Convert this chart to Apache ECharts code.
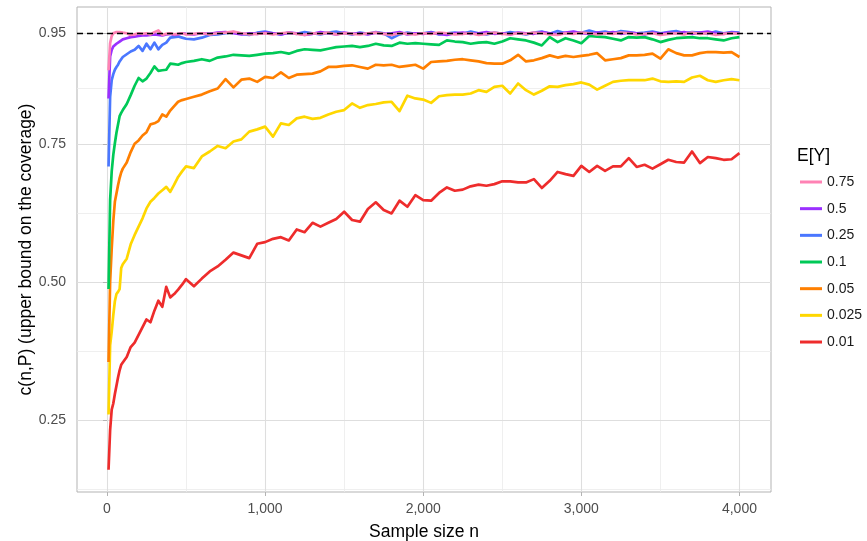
<!DOCTYPE html>
<html>
<head>
<meta charset="utf-8">
<script src="https://cdn.jsdelivr.net/npm/echarts@6/dist/echarts.min.js"></script>
<style>
html,body{margin:0;padding:0;background:#fff;}
#chart{width:867px;height:541px;}
</style>
</head>
<body>
<div id="chart"></div>
<script>
// ---- data ----
const sampleSizes = [10,20,30,40,50,60,70,80,90,100,125,150,175,200,225,250,275,300,325,350,375,400,425,450,475,500,
  550,600,650,700,750,800,850,900,950,1000,1050,1100,1150,1200,1250,1300,1350,1400,1450,1500,
  1550,1600,1650,1700,1750,1800,1850,1900,1950,2000,2050,2100,2150,2200,2250,2300,2350,2400,2450,2500,
  2550,2600,2650,2700,2750,2800,2850,2900,2950,3000,3050,3100,3150,3200,3250,3300,3350,3400,3450,3500,
  3550,3600,3650,3700,3750,3800,3850,3900,3950,4000];

const legendTitle = "E[Y]";
const seriesNames = ["0.75","0.5","0.25","0.1","0.05","0.025","0.01"];

const cov075 = [0.883,0.932,0.945,0.950,0.951,0.952,0.951,0.952,0.951,0.951,0.950,0.947,0.948,0.950,0.949,0.950,0.948,0.952,0.955,0.947,0.949,0.950,0.948,0.949,0.950,0.948,
  0.949,0.950,0.948,0.950,0.951,0.953,0.950,0.948,0.949,0.950,
  0.948,0.950,0.951,0.949,0.947,0.950,0.949,0.951,0.948,0.950,
  0.949,0.948,0.950,0.951,0.949,0.947,0.950,0.949,0.948,0.950,
  0.949,0.951,0.950,0.948,0.949,0.950,0.947,0.949,0.951,0.949,
  0.948,0.950,0.949,0.951,0.950,0.948,0.947,0.950,0.949,0.951,
  0.950,0.948,0.950,0.949,0.951,0.950,0.948,0.949,0.950,0.947,
  0.949,0.950,0.948,0.951,0.949,0.950,0.947,0.949,0.950,0.949];

const cov050 = [0.832,0.908,0.920,0.926,0.929,0.931,0.933,0.935,0.937,0.939,0.941,0.943,0.944,0.945,0.946,0.946,0.947,0.948,0.947,0.946,0.948,0.949,0.947,0.948,0.950,0.949,
  0.948,0.950,0.949,0.951,0.952,0.950,0.948,0.950,0.949,0.951,
  0.950,0.948,0.951,0.950,0.947,0.949,0.952,0.950,0.948,0.951,
  0.949,0.950,0.948,0.951,0.949,0.950,0.952,0.948,0.950,0.949,
  0.951,0.949,0.947,0.950,0.951,0.949,0.950,0.952,0.949,0.950,
  0.948,0.951,0.950,0.949,0.952,0.950,0.948,0.951,0.953,0.950,
  0.949,0.951,0.950,0.952,0.949,0.951,0.950,0.948,0.951,0.949,
  0.951,0.950,0.952,0.949,0.951,0.953,0.950,0.949,0.951,0.950];

const cov025 = [0.709,0.835,0.865,0.876,0.884,0.889,0.893,0.899,0.903,0.907,0.912,0.917,0.920,0.927,0.918,0.931,0.921,0.933,0.921,0.929,0.933,0.942,0.943,0.944,0.942,0.940,
  0.939,0.942,0.947,0.948,0.950,0.952,0.949,0.947,0.951,0.953,
  0.950,0.948,0.951,0.949,0.952,0.950,0.948,0.951,0.953,0.950,
  0.948,0.951,0.949,0.952,0.950,0.941,0.948,0.951,0.949,0.950,
  0.952,0.948,0.950,0.951,0.949,0.953,0.950,0.948,0.951,0.949,
  0.952,0.950,0.948,0.951,0.953,0.949,0.954,0.950,0.952,0.951,
  0.955,0.951,0.953,0.950,0.954,0.952,0.950,0.951,0.953,0.950,
  0.952,0.954,0.950,0.952,0.951,0.949,0.953,0.950,0.952,0.951];

const cov010 = [0.487,0.648,0.700,0.730,0.751,0.770,0.785,0.800,0.806,0.811,0.822,0.838,0.855,0.869,0.863,0.868,0.878,0.890,0.882,0.883,0.884,0.895,0.894,0.893,0.896,0.898,
  0.900,0.903,0.900,0.906,0.908,0.911,0.910,0.909,0.911,0.913,
  0.914,0.916,0.913,0.918,0.921,0.920,0.919,0.922,0.925,0.926,
  0.927,0.925,0.927,0.931,0.928,0.927,0.933,0.931,0.932,0.931,
  0.930,0.929,0.937,0.935,0.934,0.931,0.933,0.934,0.931,0.935,
  0.941,0.939,0.937,0.933,0.928,0.943,0.934,0.941,0.937,0.932,
  0.945,0.944,0.943,0.940,0.937,0.943,0.942,0.943,0.939,0.934,
  0.938,0.941,0.942,0.943,0.941,0.941,0.939,0.937,0.941,0.943];

const cov005 = [0.355,0.500,0.560,0.610,0.645,0.660,0.675,0.688,0.698,0.705,0.716,0.735,0.750,0.756,0.765,0.771,0.785,0.787,0.791,0.803,0.799,0.810,0.818,0.826,0.829,0.831,
  0.835,0.839,0.845,0.850,0.867,0.852,0.866,0.868,0.862,0.871,
  0.869,0.879,0.869,0.875,0.876,0.877,0.881,0.889,0.889,0.891,
  0.892,0.889,0.886,0.893,0.892,0.893,0.889,0.891,0.893,0.886,
  0.898,0.899,0.900,0.902,0.903,0.901,0.899,0.896,0.895,0.895,
  0.901,0.911,0.899,0.901,0.905,0.910,0.906,0.909,0.907,0.909,
  0.911,0.914,0.901,0.903,0.905,0.910,0.910,0.911,0.913,0.904,
  0.921,0.914,0.910,0.910,0.914,0.916,0.916,0.915,0.916,0.907];

const cov0025 = [0.260,0.385,0.410,0.440,0.465,0.478,0.482,0.487,0.525,0.532,0.542,0.568,0.585,0.600,0.615,0.633,0.645,0.652,0.660,0.666,0.672,0.663,0.676,0.690,0.700,0.709,
  0.706,0.727,0.736,0.746,0.742,0.754,0.758,0.772,0.776,0.781,
  0.763,0.787,0.784,0.796,0.799,0.795,0.797,0.803,0.808,0.811,
  0.823,0.815,0.820,0.822,0.825,0.826,0.809,0.837,0.832,0.830,
  0.824,0.836,0.838,0.839,0.839,0.841,0.847,0.844,0.853,0.855,
  0.841,0.859,0.847,0.839,0.846,0.854,0.853,0.856,0.858,0.861,
  0.857,0.848,0.855,0.862,0.864,0.865,0.865,0.865,0.868,0.863,
  0.862,0.863,0.862,0.870,0.873,0.865,0.862,0.865,0.867,0.865];

const cov001 = [0.160,0.232,0.269,0.280,0.297,0.312,0.327,0.340,0.350,0.354,0.364,0.382,0.390,0.404,0.418,0.432,0.427,0.448,0.466,0.455,0.491,0.472,0.478,0.486,0.495,0.505,
  0.492,0.506,0.519,0.528,0.540,0.553,0.548,0.543,0.569,0.572,
  0.578,0.581,0.575,0.595,0.590,0.607,0.600,0.607,0.614,0.627,
  0.612,0.609,0.632,0.644,0.630,0.624,0.647,0.636,0.657,0.648,
  0.647,0.661,0.671,0.665,0.667,0.673,0.676,0.674,0.677,0.682,
  0.682,0.680,0.680,0.686,0.670,0.683,0.699,0.695,0.692,0.710,
  0.699,0.710,0.701,0.709,0.709,0.724,0.708,0.712,0.705,0.713,
  0.721,0.717,0.716,0.736,0.715,0.726,0.724,0.721,0.722,0.733];

const targetLevel = 0.95;
const xTickValues = [0,1000,2000,3000,4000];
const xMinorValues = [500,1500,2500,3500];
const yTickValues = [0.25,0.50,0.75,0.95];
const yMinorValues = [0.125,0.375,0.625,0.85];

// ---- styling ----
const FONT = "Liberation Sans, Arial, Helvetica, sans-serif";
const colors = {
  "0.75": "#FF82B4",
  "0.5": "#9B30FF",
  "0.25": "#4A77FF",
  "0.1": "#00C957",
  "0.05": "#FF7F00",
  "0.025": "#FFD700",
  "0.01": "#EE2C2C"
};
const valuesByName = {
  "0.75": cov075, "0.5": cov050, "0.25": cov025, "0.1": cov010,
  "0.05": cov005, "0.025": cov0025, "0.01": cov001
};

const X_MIN = -189.5, X_MAX = 4199.5, Y_MIN = 0.1198, Y_MAX = 0.9975;

function fmtThousands(v){ return Math.round(v).toString().replace(/\B(?=(\d{3})+(?!\d))/g, ","); }

const chart = echarts.init(document.getElementById('chart'), null, {renderer:'canvas'});

// draw order: bottom-most first (0.01) ... top-most last (0.75)
const drawOrder = seriesNames.slice().reverse();
const lineSeries = drawOrder.map(name => ({
  name: name,
  type: 'line',
  xAxisIndex: 0, yAxisIndex: 0,
  data: sampleSizes.map((n,i) => [n, valuesByName[name][i]]),
  symbol: 'none',
  showSymbol: false,
  smooth: false,
  lineStyle: { color: colors[name], width: 2.7, join: 'round', cap: 'butt' },
  itemStyle: { color: colors[name] },
  emphasis: { disabled: true },
  z: 3
}));

const refSeries = {
  name: '__ref',
  type: 'line',
  xAxisIndex: 0, yAxisIndex: 0,
  data: [],
  symbol: 'none',
  z: 2,
  markLine: {
    silent: true,
    symbol: ['none','none'],
    label: { show: false },
    lineStyle: { color: '#000', width: 1.4, type: [6,4] },
    data: [{ yAxis: targetLevel }],
    animation: false
  }
};

const option = {
  animation: false,
  backgroundColor: '#fff',
  textStyle: { fontFamily: FONT },
  title: {
    text: legendTitle,
    left: 797, top: 147,
    padding: 0,
    textStyle: { fontFamily: FONT, fontSize: 17.5, fontWeight: 'normal', color: '#000' }
  },
  legend: {
    data: seriesNames,
    orient: 'vertical',
    left: 800, top: 175,
    padding: 0,
    icon: 'path://M0,0L22,0L22,3L0,3Z',
    symbolKeepAspect: true,
    itemWidth: 22, itemHeight: 14, itemGap: 12.67,
    textStyle: { fontFamily: FONT, fontSize: 14, color: '#1a1a1a', lineHeight: 14 },
    selectedMode: false
  },
  grid: [{
    left: 77, top: 7, width: 694, height: 485,
    containLabel: false,
    outerBoundsMode: 'none',
    show: true,
    borderColor: '#B3B3B3', borderWidth: 1,
    backgroundColor: 'transparent'
  }],
  xAxis: [{
    type: 'value', gridIndex: 0, position: 'bottom',
    min: X_MIN, max: X_MAX,
    name: 'Sample size n', nameLocation: 'middle', nameGap: 31,
    nameTextStyle: { fontFamily: FONT, fontSize: 17.5, color: '#000' },
    axisLine: { show: false },
    axisTick: { show: true, customValues: xTickValues, length: 4, inside: false, lineStyle: { color: '#B3B3B3', width: 1 } },
    axisLabel: { show: true, customValues: xTickValues, margin: 10, fontFamily: FONT, fontSize: 14, color: '#4D4D4D', formatter: v => fmtThousands(v) },
    splitLine: { show: true, lineStyle: { color: '#DEDEDE', width: 1.1 } },
    z: 1
  },{
    type: 'value', gridIndex: 0, position: 'top',
    min: X_MIN, max: X_MAX,
    axisLine: { show: false },
    axisTick: { show: false, customValues: xMinorValues },
    axisLabel: { show: false, customValues: xMinorValues },
    splitLine: { show: true, lineStyle: { color: '#EBEBEB', width: 0.8 } },
    z: 0
  }],
  yAxis: [{
    type: 'value', gridIndex: 0, position: 'left',
    min: Y_MIN, max: Y_MAX,
    name: 'c(n,P) (upper bound on the coverage)', nameLocation: 'middle', nameGap: 42, nameRotate: 90,
    nameMoveOverlap: false,
    nameTextStyle: { fontFamily: FONT, fontSize: 17.5, color: '#000' },
    axisLine: { show: false },
    axisTick: { show: true, customValues: yTickValues, length: 4, inside: false, lineStyle: { color: '#B3B3B3', width: 1 } },
    axisLabel: { show: true, customValues: yTickValues, margin: 11, fontFamily: FONT, fontSize: 14, color: '#4D4D4D', formatter: v => v.toFixed(2) },
    splitLine: { show: true, lineStyle: { color: '#DEDEDE', width: 1.1 } },
    z: 1
  },{
    type: 'value', gridIndex: 0, position: 'right',
    min: Y_MIN, max: Y_MAX,
    axisLine: { show: false },
    axisTick: { show: false, customValues: yMinorValues },
    axisLabel: { show: false, customValues: yMinorValues },
    splitLine: { show: true, lineStyle: { color: '#EBEBEB', width: 0.8 } },
    z: 0
  }],
  series: [refSeries].concat(lineSeries)
};

chart.setOption(option);
</script>
</body>
</html>
